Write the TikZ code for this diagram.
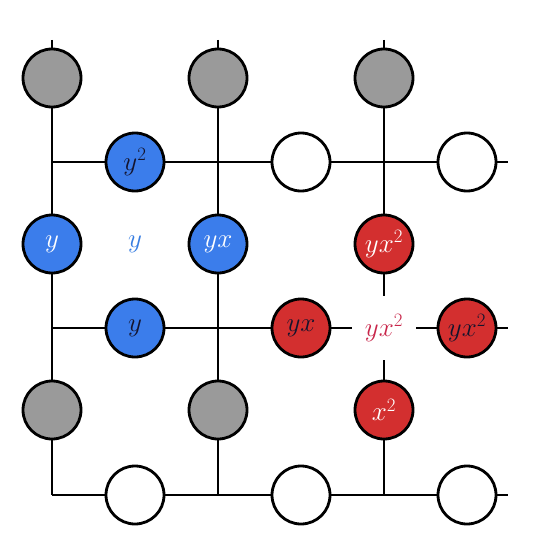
\documentclass[tikz,border=0pt]{standalone}
\RequirePackage{fix-cm}
\usepackage{amsmath}
\usepackage{tikz}
\usetikzlibrary{positioning}
\definecolor{sitegray}{RGB}{154,154,154}
\definecolor{cellblue}{RGB}{59,125,235}
\definecolor{cellred}{RGB}{211,47,47}
\definecolor{labelred}{RGB}{200,38,74}
\definecolor{labelblue}{RGB}{55,125,225}
\definecolor{darkink}{RGB}{20,20,45}

\begin{document}
\begin{tikzpicture}[
        x=1pt, y=-1pt,
        line width=2.8pt,
        % one style for every disc, fill given as argument
        site/.style={circle, draw, fill=#1, line width=2.8pt,
            minimum size=58pt, inner sep=0pt,
            font=\fontsize{27}{32}\selectfont},
        vsite/.style={site=#1, text=white},
        hsite/.style={site=#1, text=darkink},
        tag/.style={circle, minimum size=62pt, inner sep=0pt,
            text=#1, font=\fontsize{27}{32}\selectfont}
    ]
        \useasboundingbox (0,0) rectangle (540,532);

        % discs on the vertical lines
        \node[vsite=sitegray] (g1) at (52,78) {};
        \node[vsite=sitegray] (g2) at (218,78) {};
        \node[vsite=sitegray] (g3) at (384,78) {};
        \node[vsite=cellblue] (v1) at (52,244) {$y$};
        \node[vsite=cellblue] (v2) at (218,244) {$yx$};
        \node[vsite=cellred] (v3) at (384,244) {$yx^2$};
        \node[vsite=sitegray] (g4) at (52,410) {};
        \node[vsite=sitegray] (g5) at (218,410) {};
        \node[vsite=cellred] (v4) at (384,410) {$x^2$};

        % discs on the horizontal lines
        \node[hsite=cellblue] (h1) at (135,162) {$y^2$};
        \node[hsite=white] (h2) at (301,162) {};
        \node[hsite=white] (h3) at (467,162) {};
        \node[hsite=cellblue] (h4) at (135,328) {$y$};
        \node[hsite=cellred] (h5) at (301,328) {$yx$};
        \node[hsite=cellred] (h6) at (467,328) {$yx^2$};
        \node[hsite=white] (h7) at (135,495) {};
        \node[hsite=white] (h8) at (301,495) {};
        \node[hsite=white] (h9) at (467,495) {};

        % free labels
        \node[tag=labelblue] (t1) at (135,244) {$y$};
        \node[tag=labelred] (t2) at (384,328) {$yx^2$};

        % line ends
        \coordinate (top1) at (52,40);
        \coordinate (top2) at (218,40);
        \coordinate (top3) at (384,40);
        \coordinate (c1) at (52,162);
        \coordinate (c2) at (52,328);
        \coordinate (c3) at (52,495);
        \coordinate (c4) at (218,495);
        \coordinate (c5) at (384,495);
        \coordinate (e1) at (508,162);
        \coordinate (e2) at (508,328);
        \coordinate (e3) at (508,495);

        % vertical lines
        \draw (top1) -- (g1) -- (v1) -- (g4) -- (c3);
        \draw (top2) -- (g2) -- (v2) -- (g5) -- (c4);
        \draw (top3) -- (g3) -- (v3) -- (t2) -- (v4) -- (c5);

        % horizontal lines
        \draw (c1) -- (h1) -- (h2) -- (h3) -- (e1);
        \draw (c2) -- (h4) -- (h5) -- (t2) -- (h6) -- (e2);
        \draw (c3) -- (h7) -- (h8) -- (h9) -- (e3);
    \end{tikzpicture}
\end{document}
